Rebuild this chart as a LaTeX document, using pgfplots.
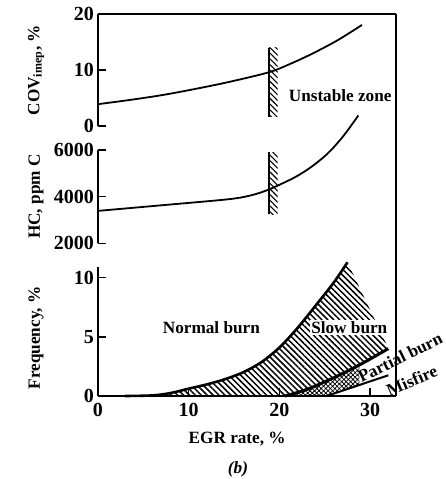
\documentclass[border=0pt]{standalone}
\usepackage{fontspec}
\setmainfont{Liberation Serif}
\usepackage{pgfplots}
\pgfplotsset{compat=1.18}
\usetikzlibrary{patterns.meta}

\newcommand{\lbl}{\fontsize{8.6}{10}\selectfont\bfseries}
\newcommand{\tkl}{\fontsize{10}{12}\selectfont\bfseries}

\pgfplotsset{
  panel/.style={
    scale only axis, width=149pt, xmin=0, xmax=32.85,
    anchor=south west, clip=false,
    axis y line*=left,
    tick align=inside,
    major tick length=4pt,
    every tick/.style={black, line width=0.7pt},
    axis line style={line width=0.75pt},
    /pgf/number format/assume math mode=true,
    /pgf/number format/set thousands separator={},
    tick label style={font=\tkl},
    yticklabel style={xshift=1.5pt},
    every axis y label/.style={at={(rel axis cs:0,0.5)}, anchor=center, rotate=90, yshift=31pt, font=\lbl},
    every axis x label/.style={at={(rel axis cs:0.467,0)}, anchor=center, yshift=-21.5pt, font=\lbl},
  },
  bar/.style={draw=none, pattern={Lines[angle=-45,distance=2pt,line width=0.55pt]}},
}

\begin{document}
\begin{tikzpicture}
\path[use as bounding box] (0,0) rectangle (223pt,239.5pt);

% ---------- top panel: COV ----------
\begin{axis}[panel, name=top, at={(49pt,176.5pt)}, height=56pt,
  ymin=0, ymax=20, ytick={0,10,20}, hide x axis,
  ylabel={COV\textsubscript{imep}, \%}]
\addplot[smooth, line width=0.9pt] coordinates {
 (0,3.9) (3.5,4.65) (7,5.5) (10.5,6.55) (14.4,7.85) (18.85,9.6)
 (21.2,11.1) (23.6,12.9) (26.4,15.3) (29.1,18.05)};
\addplot[bar] coordinates {(18.85,1.65) (19.8,1.65) (19.8,14.0) (18.85,14.0)} -- cycle;
\addplot[line width=0.8pt] coordinates {(18.85,1.65) (18.85,14.0)};
\node[font=\lbl] at (axis cs:26.7,5.5) {Unstable zone};
\draw[line width=0.75pt] (rel axis cs:0,1) -- (rel axis cs:1,1);
\end{axis}

% ---------- middle panel: HC ----------
\begin{axis}[panel, name=mid, at={(49pt,117.85pt)}, height=46.65pt,
  ymin=2000, ymax=6000, ytick={2000,4000,6000}, hide x axis,
  ylabel={HC, ppm C}]
\addplot[smooth, line width=0.9pt] coordinates {
 (0,3390) (7,3630) (14.4,3890) (16.9,4060) (18.85,4310) (21.7,4830)
 (23.6,5300) (25.4,5880) (27.05,6600) (28.7,7480)};
\addplot[bar] coordinates {(18.85,3240) (19.8,3240) (19.8,5900) (18.85,5900)} -- cycle;
\addplot[line width=0.8pt] coordinates {(18.85,3240) (18.85,5900)};
\end{axis}

% ---------- bottom panel: frequency ----------
\begin{axis}[panel, name=bot, at={(49pt,41.5pt)}, height=64.5pt,
  ymin=0, ymax=10.9, ytick={0,5,10},
  axis x line*=bottom, xtick={0,10,20,30},
  xlabel={EGR rate, \%}, ylabel={Frequency, \%},
  every axis y label/.append style={at={(rel axis cs:0,0.45)}}]
% slow burn region
\addplot[draw=none, pattern={Lines[angle=-45,distance=2.1pt,line width=0.75pt]}] coordinates {
 (4,0) (6,0.05) (8,0.25) (9,0.45) (10,0.62) (11,0.8) (12,0.98) (13,1.18)
 (14,1.42) (15,1.7) (16,2.0) (17,2.38) (18,2.85) (19,3.4) (20,4.1)
 (21,4.9) (22,5.75) (23,6.65) (24,7.65) (25,8.55) (26,9.6) (27,10.75) (27.5,11.3)
 (32,4.05) (29,2.7) (26,1.55) (23,0.55) (20.6,0)} -- cycle;
% partial burn region
\addplot[draw=none, pattern={Hatch[angle=45,distance=1.6pt,line width=0.4pt]}] coordinates {
 (20.6,0) (23,0.55) (26,1.55) (28.8,2.62) (28.8,0.93) (25.2,0)} -- cycle;
% boundaries
\addplot[smooth, line width=1.3pt] coordinates {
 (3,0) (6,0.05) (8,0.25) (10,0.62) (12,0.98) (14,1.42) (16,2.0) (18,2.85)
 (20,4.1) (22,5.75) (24,7.65) (26,9.6) (27.5,11.3)};
\addplot[smooth, line width=1.5pt] coordinates {(20.6,0) (23,0.55) (26,1.55) (29,2.7) (32,4.0)};
\addplot[line width=1pt] coordinates {(25.2,0) (32,1.75)};
% labels
\node[font=\lbl] at (axis cs:12.5,5.8) {Normal burn};
\node[font=\lbl, fill=white, inner sep=0.6pt] at (axis cs:27.7,5.8) {Slow burn};
\node[font=\lbl, rotate=26] at (axis cs:33.3,3.25) {Partial burn};
\node[font=\lbl, rotate=23] at (axis cs:34.6,1.3) {Misfire};
\end{axis}

\draw[line width=0.75pt] (top.north east) -- (bot.south east);
\node[font=\fontsize{8.6}{10}\selectfont\bfseries\itshape] at (119pt,5pt) {(b)};
\end{tikzpicture}
\end{document}
